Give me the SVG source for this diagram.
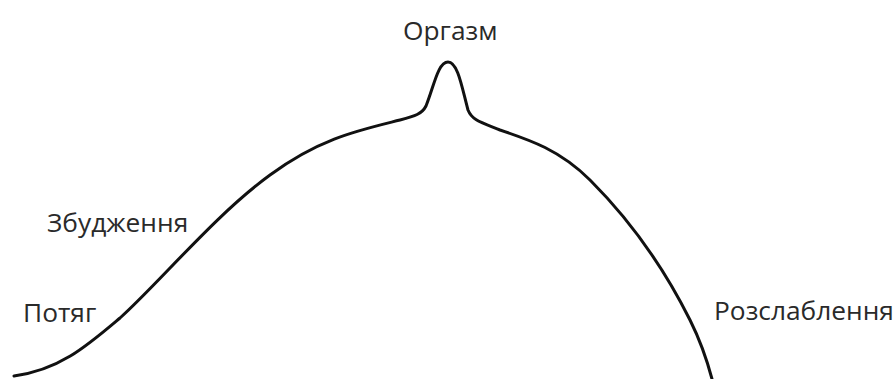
<svg xmlns="http://www.w3.org/2000/svg" width="895" height="379" viewBox="0 0 895 379">
<style>
.lbl{font-family:"Open Sans","Liberation Sans",sans-serif;font-size:26.3px;fill:#2a2a2a}
.curve{fill:none;stroke:#111;stroke-width:3;stroke-linecap:round;stroke-linejoin:round}
</style>
<rect width="895" height="379" fill="#fff"/>
<g id="connectors">
<path class="curve" d="M 14,376 C 60,370 88,345 120,318 C 160,282 215,215 270,175 C 320,138 360,130 400,120 C 415,116 422,114 426,106 C 434,86 438,62 448,62 C 458,62 462,88 468,110 C 472,120 480,122 500,130 C 530,140 560,150 590,180 C 630,220 665,270 690,320 C 700,340 707,360 712,379"/>
</g>
<g id="orgasm"><text class="lbl" x="403" y="40">Оргазм</text></g>
<g id="arousal"><text class="lbl" x="47" y="232">Збудження</text></g>
<g id="desire"><text class="lbl" x="23" y="322">Потяг</text></g>
<g id="relax"><text class="lbl" x="714" y="320">Розслаблення</text></g>
</svg>
